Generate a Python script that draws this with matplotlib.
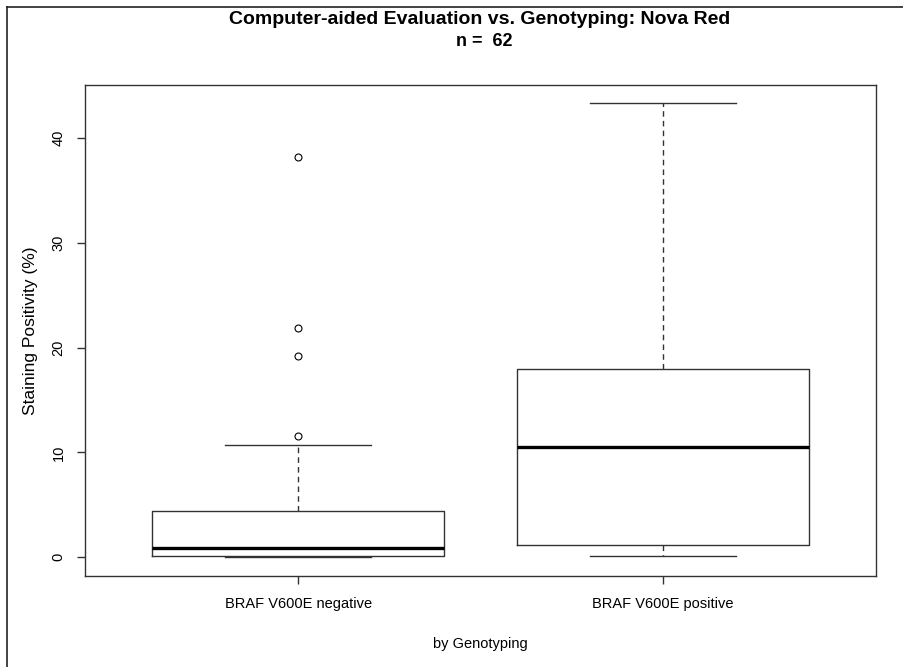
import matplotlib.pyplot as plt
from matplotlib.lines import Line2D

plt.rcParams['font.family'] = ['Liberation Sans', 'DejaVu Sans']

# Box statistics
groups = ['BRAF V600E negative', 'BRAF V600E positive']
whisker_low = [0.0, 0.1]
q1 = [0.1, 1.15]
medians = [0.83, 10.5]
q3 = [4.42, 17.97]
whisker_high = [10.69, 43.3]
outliers = [[11.55, 19.2, 21.85, 38.14], []]

stats = []
for i in range(len(groups)):
    stats.append({'label': groups[i], 'whislo': whisker_low[i], 'q1': q1[i],
                  'med': medians[i], 'q3': q3[i], 'whishi': whisker_high[i],
                  'fliers': outliers[i]})

fig = plt.figure(figsize=(9.04, 6.67), dpi=100)
ax = fig.add_axes([85 / 904, 1 - 576 / 667, 791 / 904, 491 / 667])

edge = '#333333'
ax.bxp(stats, positions=[1, 2], widths=0.8,
       boxprops=dict(color=edge, linewidth=1.0),
       medianprops=dict(color='black', linewidth=2.4),
       whiskerprops=dict(color=edge, linewidth=1.0, linestyle=(0, (4, 3))),
       capprops=dict(color=edge, linewidth=1.0),
       capwidths=0.4,
       flierprops=dict(marker='o', markersize=5, markerfacecolor='none',
                       markeredgecolor='black', markeredgewidth=0.8))

ax.set_xlim(0.416, 2.584)
ax.set_ylim(-1.8, 45.05)
ax.set_yticks([0, 10, 20, 30, 40])
ax.set_yticklabels(['0', '10', '20', '30', '40'], rotation=90, va='center')
ax.tick_params(axis='both', labelsize=10.5, color=edge, length=6, width=1.0)
ax.tick_params(axis='y', pad=8)
ax.tick_params(axis='x', pad=9)
for s in ax.spines.values():
    s.set_color(edge)
    s.set_linewidth(1.0)

ax.set_xlabel('by Genotyping', fontsize=10.5, labelpad=19)
ax.set_ylabel('Staining Positivity (%)', fontsize=12.5, labelpad=10)

fig.text(480 / 904, 1 - 20 / 667, 'Computer-aided Evaluation vs. Genotyping: Nova Red',
         ha='center', va='center', fontsize=14, fontweight='bold')
fig.text(484 / 904, 1 - 42 / 667, 'n =  62', ha='center', va='center',
         fontsize=13, fontweight='bold')

# outer frame of the screenshot (top and left edges visible)
fig.add_artist(Line2D([7 / 904, 1], [1 - 7 / 667, 1 - 7 / 667], color='#222222', linewidth=1.2))
fig.add_artist(Line2D([7 / 904, 7 / 904], [0, 1 - 7 / 667], color='#222222', linewidth=1.2))

fig.savefig('out.png', dpi=100)
